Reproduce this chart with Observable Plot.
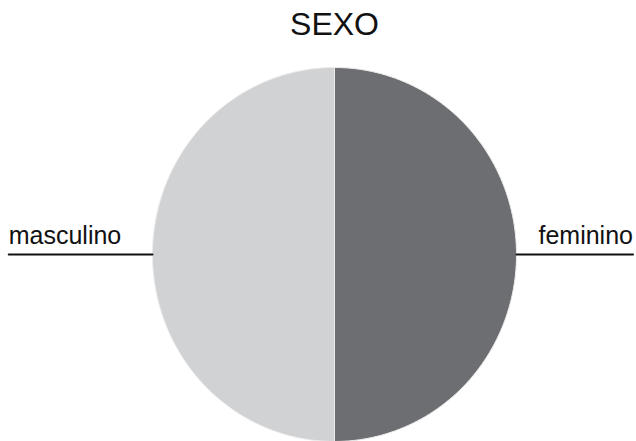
<!DOCTYPE html>
<html><head><meta charset="utf-8">
<script src="https://cdn.jsdelivr.net/npm/d3@7"></script>
<script src="https://cdn.jsdelivr.net/npm/@observablehq/plot@0.6"></script>
<style>body{margin:0;background:#fff;font-family:"Liberation Sans",Arial,sans-serif}</style>
</head><body><div id="chart"></div>
<script>
const title = "SEXO";
const categories = ["masculino", "feminino"];
const values = [50, 50];
const colors = ["#d1d2d4", "#6d6e71"];

const total = d3.sum(values);
let acc = 0;
const pts = [];
const mids = [];
// feminino drawn clockwise from top, masculino continues on the left side
const order = [1, 0];
order.forEach(i => {
  const a0 = acc / total * 2 * Math.PI;
  const a1 = (acc + values[i]) / total * 2 * Math.PI;
  acc += values[i];
  pts.push({cat: categories[i], x: 0, y: 0});
  const n = 120;
  for (let k = 0; k <= n; k++) {
    const a = a0 + (a1 - a0) * k / n;
    pts.push({cat: categories[i], x: Math.sin(a), y: Math.cos(a)});
  }
  pts.push({cat: categories[i], x: 0, y: 0});
  mids.push({cat: categories[i], a: (a0 + a1) / 2});
});

// leader lines and labels
const leaders = [];
const labels = [];
mids.forEach(m => {
  const sx = Math.sin(m.a), sy = Math.cos(m.a);
  const right = sx > 0;
  leaders.push({cat: m.cat, x: sx, y: sy});
  leaders.push({cat: m.cat, x: right ? 1.64 : -1.79, y: sy});
  labels.push({cat: m.cat, x: right ? 1.64 : -1.79, y: sy, anchor: right ? "end" : "start"});
});

const W = 636, H = 441;
const cx = 334, cy = 254, rx = 182, ry = 187;
const chart = Plot.plot({
  width: W, height: H,
  margin: 0,
  x: {domain: [-cx / rx, (W - cx) / rx], range: [0, W], axis: null},
  y: {domain: [cy / ry, -(H - cy) / ry], range: [0, H], axis: null},
  color: {domain: categories, range: colors},
  style: {fontFamily: "'Liberation Sans', Arial, sans-serif", background: "#fff"},
  marks: [
    Plot.line(pts, {x: "x", y: "y", z: "cat", fill: "cat", stroke: "#ececec", strokeWidth: 1, curve: "linear"}),
    Plot.line(leaders, {x: "x", y: "y", z: "cat", stroke: "#111", strokeWidth: 2}),
    Plot.text(labels.filter(d => d.anchor === "start"), {x: "x", y: "y", text: "cat", textAnchor: "start", lineAnchor: "bottom", dy: -11, fontSize: 25, fill: "#111"}),
    Plot.text(labels.filter(d => d.anchor === "end"), {x: "x", y: "y", text: "cat", textAnchor: "end", lineAnchor: "bottom", dy: -11, fontSize: 25, fill: "#111"}),
    Plot.text([title], {x: () => 0, frameAnchor: "top", dy: 12, fontSize: 32, fill: "#111", lineAnchor: "top"})
  ]
});
document.getElementById("chart").appendChild(chart);
</script></body></html>
